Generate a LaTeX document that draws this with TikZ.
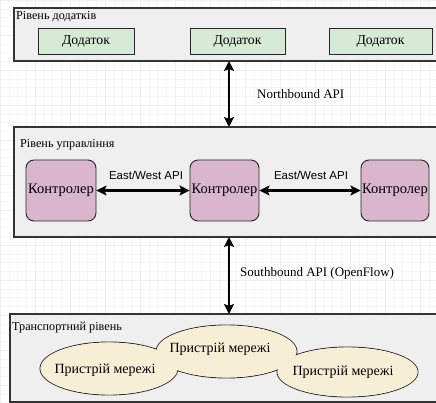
\documentclass[tikz,border=0pt]{standalone}
\usepackage{fontspec}
\setmainfont{Liberation Serif}
\newfontfamily\sansf{Liberation Sans}
\usetikzlibrary{shapes.geometric,arrows.meta}
\definecolor{gridminor}{HTML}{F6F6F6}
\definecolor{gridmajor}{HTML}{EEEEEE}
\definecolor{layerfill}{HTML}{EFEFEF}
\definecolor{layerline}{HTML}{333333}
\definecolor{appfill}{HTML}{D6EAD5}
\definecolor{ctrlfill}{HTML}{D9B5CE}
\definecolor{devfill}{HTML}{F6EED5}
\tikzset{
  layerbox/.style={draw=layerline, line width=1.2pt, fill=layerfill, inner sep=0pt},
  appbox/.style={draw=black!85, line width=0.9pt, fill=appfill, minimum height=26pt, inner sep=0pt, font=\fontsize{13.7}{15}\selectfont},
  ctrlbox/.style={draw=black!85, line width=0.9pt, fill=ctrlfill, rounded corners=8pt, minimum height=61pt, inner sep=0pt, font=\fontsize{14.5}{16}\selectfont},
  devshape/.style={ellipse, inner sep=0pt},
  devtext/.style={inner sep=0pt, font=\fontsize{14}{16}\selectfont},
  layertitle/.style={anchor=west, inner sep=0pt, font=\fontsize{12.2}{14}\selectfont},
  apilabel/.style={anchor=west, inner sep=0pt, font=\fontsize{13}{15}\selectfont},
  ewlabel/.style={inner sep=0pt, font=\sansf\fontsize{11.5}{13}\selectfont},
  biarrow/.style={line width=2.4pt, {Stealth[length=10pt,width=10pt,inset=2pt]}-{Stealth[length=10pt,width=10pt,inset=2pt]}}
}
\begin{document}
\begin{tikzpicture}[x=1pt,y=-1pt]
\useasboundingbox (0,0) rectangle (436,403);
\clip (0,0) rectangle (436,403);
\fill[white] (0,0) rectangle (436,403);
% background grid
\foreach \gx in {0,8.75,...,436} {\draw[gridminor, line width=0.4pt] (\gx,0) -- (\gx,403);}
\foreach \gy in {0,8.75,...,403} {\draw[gridminor, line width=0.4pt] (0,\gy) -- (436,\gy);}
\foreach \gx in {0,35,...,436} {\draw[gridmajor, line width=0.4pt] (\gx,0) -- (\gx,403);}
\foreach \gy in {0,35,...,403} {\draw[gridmajor, line width=0.4pt] (0,\gy) -- (436,\gy);}

% layers
\node[layerbox, minimum width=446pt, minimum height=53pt] (applayer) at (237,34.5) {};
\node[layerbox, minimum width=446pt, minimum height=110pt] (ctrllayer) at (237,182) {};
\node[layerbox, minimum width=450pt, minimum height=88pt] (translayer) at (235,358) {};

\node[layertitle] (t1) at (16,17) {Рівень додатків};
\node[layertitle] (t2) at (20,145) {Рівень управління};
\node[layertitle] (t3) at (12,328) {Транспортний рівень};

% applications
\node[appbox, minimum width=96pt] (app1) at (86,41) {Додаток};
\node[appbox, minimum width=95pt] (app2) at (237.5,41) {Додаток};
\node[appbox, minimum width=103pt] (app3) at (380.5,41) {Додаток};

% controllers
\node[ctrlbox, minimum width=70pt] (c1) at (61,190.5) {Контролер};
\node[ctrlbox, minimum width=69pt] (c2) at (224.5,190.5) {Контролер};
\node[ctrlbox, minimum width=68pt] (c3) at (395,190.5) {Контролер};

\draw[biarrow] (c1.east) -- (c2.west);
\draw[biarrow] (c2.east) -- (c3.west);
\node[ewlabel] (ew1) at (146,175) {East/West API};
\node[ewlabel] (ew2) at (311,175) {East/West API};

% devices (union outline)
\node[devshape, draw=black!85, line width=0.9pt, minimum width=138pt, minimum height=53pt] (d1o) at (109,368.5) {};
\node[devshape, draw=black!85, line width=0.9pt, minimum width=141pt, minimum height=53pt] (d2o) at (226.5,351.5) {};
\node[devshape, draw=black!85, line width=0.9pt, minimum width=141pt, minimum height=50pt] (d3o) at (347.5,372) {};
\node[devshape, fill=devfill, minimum width=137pt, minimum height=52pt] (d1) at (109,368.5) {};
\node[devshape, fill=devfill, minimum width=140pt, minimum height=52pt] (d2) at (226.5,351.5) {};
\node[devshape, fill=devfill, minimum width=140pt, minimum height=49pt] (d3) at (347.5,372) {};
\node[devtext] (d1t) at (105,370) {Пристрій мережі};
\node[devtext] (d2t) at (220,349) {Пристрій мережі};
\node[devtext] (d3t) at (343,372) {Пристрій мережі};

% vertical APIs
\coordinate (nTop) at (229,61);
\coordinate (nBot) at (229,127);
\coordinate (sTop) at (229,237);
\coordinate (sBot) at (229,314);
\draw[biarrow] (nTop) -- (nBot);
\draw[biarrow] (sTop) -- (sBot);
\node[apilabel] (nlab) at (257,94) {Northbound API};
\node[apilabel] (slab) at (240,273) {Southbound API (OpenFlow)};
\end{tikzpicture}
\end{document}
